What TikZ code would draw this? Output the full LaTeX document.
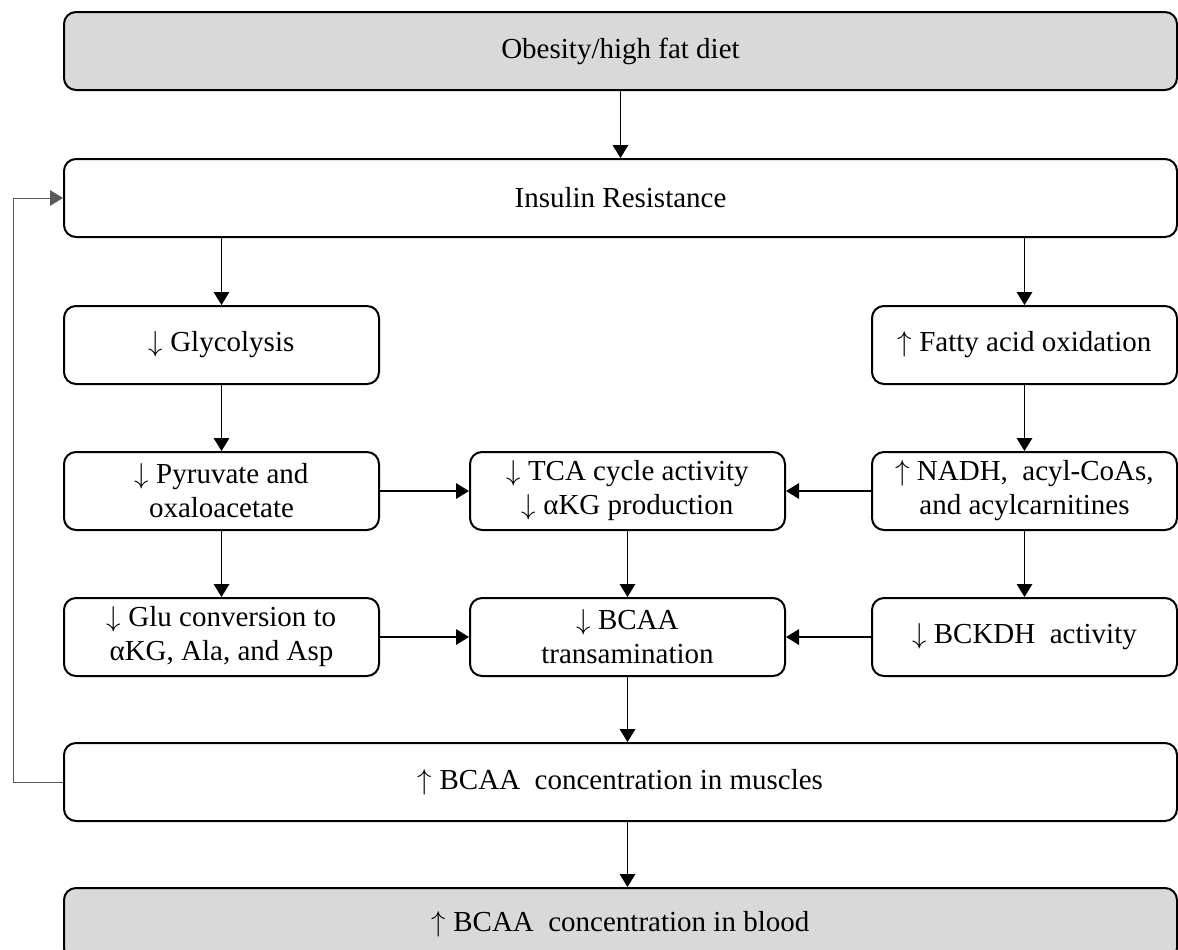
\documentclass[tikz,border=0pt]{standalone}
\usepackage{fontspec}
\setmainfont{Liberation Serif}
\usetikzlibrary{arrows.meta, positioning}

\definecolor{boxgray}{HTML}{D9D9D9}
\newcommand{\dn}{$\downarrow$}
\newcommand{\upp}{$\uparrow$}

\begin{document}
\begin{tikzpicture}[>={Triangle[length=6.5pt, width=7.8pt]},
    box/.style={draw, line width=1pt, rectangle, rounded corners=6pt,
                minimum height=39pt, inner sep=2pt,
                align=center, font=\fontsize{14.5}{17}\selectfont},
    widebox/.style={box, minimum width=556.5pt},
    smallbox/.style={box, minimum width=157.5pt},
    rightbox/.style={box, minimum width=152.5pt},
    grey/.style={fill=boxgray},
    link/.style={->, line width=0.6pt},
    node distance=33pt
  ]
  \useasboundingbox (0,0) rectangle (589pt,-474.5pt);

  \node[widebox, grey, anchor=north west] (obes) at (31.5pt,-5.5pt) {Obesity/high fat diet};
  \node[widebox, below=33.5pt of obes] (ins) {Insulin Resistance};

  % left and right columns
  \node[smallbox, below=33.5pt of ins.south west, anchor=north west] (glyco) {\dn\ Glycolysis};
  \node[rightbox, below=33.5pt of ins.south east, anchor=north east] (fatty) {\upp\ Fatty acid oxidation};
  \node[smallbox, below=of glyco] (pyr) {\dn\ Pyruvate and\\oxaloacetate};
  \node[rightbox, below=of fatty] (nadh) {\upp\ NADH,\ \ acyl-CoAs,\\and acylcarnitines};
  \node[smallbox, below=of pyr] (glu) {\dn\ Glu conversion to\\αKG, Ala, and Asp};
  \node[rightbox, below=of nadh] (bckdh) {\dn\ BCKDH\ \ activity};

  % middle column
  \node[smallbox, right=44.5pt of pyr] (tca) {\dn\ TCA cycle activity\\\dn\ αKG production};
  \node[smallbox, right=44.5pt of glu] (trans) {\dn\ BCAA\\transamination};

  \node[widebox, below=32.5pt of glu.south west, anchor=north west] (mus) {\upp\ BCAA\ \ concentration in muscles};
  \node[widebox, grey, minimum height=36pt, below=32.5pt of mus] (blood) {\upp\ BCAA\ \ concentration in blood};

  % top
  \draw[link] (obes) -- (ins);
  \draw[link] (glyco.north |- ins.south) -- (glyco);
  \draw[link] (fatty.north |- ins.south) -- (fatty);

  % columns down
  \draw[link] (glyco) -- (pyr);
  \draw[link] (pyr) -- (glu);
  \draw[link] (fatty) -- (nadh);
  \draw[link] (nadh) -- (bckdh);
  \draw[link] (tca) -- (trans);

  % into the middle
  \draw[link] (pyr) -- (tca);
  \draw[link] (nadh) -- (tca);
  \draw[link] (glu) -- (trans);
  \draw[link] (bckdh) -- (trans);

  % bottom
  \draw[link] (trans) -- (trans.south |- mus.north);
  \draw[link] (trans.south |- mus.south) -- (trans.south |- blood.north);

  % feedback loop
  \draw[link, line width=0.5pt, black!65] (mus.west) -- ++(-25pt,0) |- (ins.west);
\end{tikzpicture}
\end{document}
